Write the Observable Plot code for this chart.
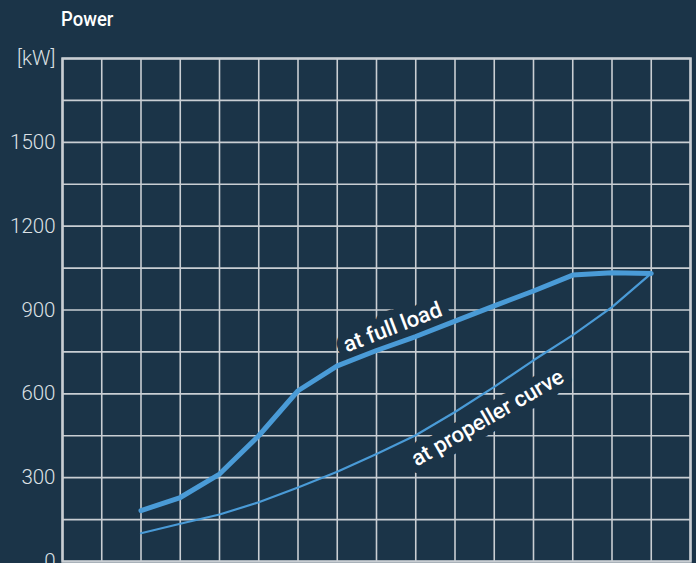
<!DOCTYPE html>
<html>
<head>
<meta charset="utf-8">
<script src="https://cdn.jsdelivr.net/npm/d3@7"></script>
<script src="https://cdn.jsdelivr.net/npm/@observablehq/plot@0.6"></script>
<style>
  html, body { margin: 0; padding: 0; background: #1b3448; overflow: hidden; }
  #title { height: 40px; position: relative; }
  #title span { position: absolute; left: 61px; top: 7px; color: #ffffff;
    font-family: Roboto, sans-serif; font-weight: 500; font-size: 21px; line-height: 24px;
    display: inline-block; transform: scaleX(0.88); transform-origin: left center; }
  #chart svg { display: block; }
</style>
</head>
<body>
<div id="title"><span>Power</span></div>
<div id="chart"></div>
<script>
const speedSteps = [2, 3, 4, 5, 6, 7, 8, 9, 10, 11, 12, 13, 14, 15];
const fullLoad = [182, 229, 313, 450, 611, 700, 755, 805, 860, 915, 968, 1025, 1033, 1031];
const propeller = [101, 135, 168, 212, 265, 321, 385, 452, 535, 625, 720, 810, 910, 1031];
const yTickValues = [0, 300, 600, 900, 1200, 1500, 1800];
const yGridValues = [0, 150, 300, 450, 600, 750, 900, 1050, 1200, 1350, 1500, 1650, 1800];
const xGridValues = [0, 1, 2, 3, 4, 5, 6, 7, 8, 9, 10, 11, 12, 13, 14, 15, 16];
const unitLabel = "[kW]";
const curveLabels = [
  {text: "at full load", x: 8.41, y: 838, rotate: -21},
  {text: "at propeller curve", x: 10.83, y: 514, rotate: -30}
];

const bg = "#1b3448";
const gridColor = "#c9ced3";
const lineColor = "#4a9bd7";
const font = 'Roboto, sans-serif';

const fullData = speedSteps.map((s, i) => ({s, p: fullLoad[i]}));
const propData = speedSteps.map((s, i) => ({s, p: propeller[i]}));

const chart = Plot.plot({
  width: 696,
  height: 541,
  marginLeft: 62,
  marginRight: 6,
  marginTop: 18,
  marginBottom: 20,
  style: {background: bg, fontFamily: font, overflow: "visible"},
  x: {domain: [0, 16], axis: null},
  y: {domain: [0, 1800], axis: null},
  marks: [
    Plot.ruleX(xGridValues, {stroke: gridColor, strokeWidth: 1.6}),
    Plot.ruleY(yGridValues, {stroke: gridColor, strokeWidth: 1.6}),
    Plot.frame({stroke: gridColor, strokeWidth: 2.5}),
    Plot.axisY(yTickValues, {
      tickSize: 0, tickPadding: 7,
      tickFormat: d => d === 1800 ? unitLabel : String(d),
      fontSize: 20.5, fill: "#dde1e5", fontWeight: 300
    }),
    ...curveLabels.map(l => Plot.text([l], {
      x: "x", y: "y", text: "text", rotate: l.rotate,
      fill: "#ffffff", stroke: bg, strokeWidth: 16, strokeLinejoin: "round",
      fontSize: 22, fontWeight: 500, textAnchor: "middle", lineAnchor: "middle"
    })),
    Plot.line(propData, {x: "s", y: "p", stroke: lineColor, strokeWidth: 2.2}),
    Plot.line(fullData, {x: "s", y: "p", stroke: lineColor, strokeWidth: 5, strokeLinejoin: "round", strokeLinecap: "round"})
  ]
});
document.getElementById("chart").append(chart);
</script>
</body>
</html>
